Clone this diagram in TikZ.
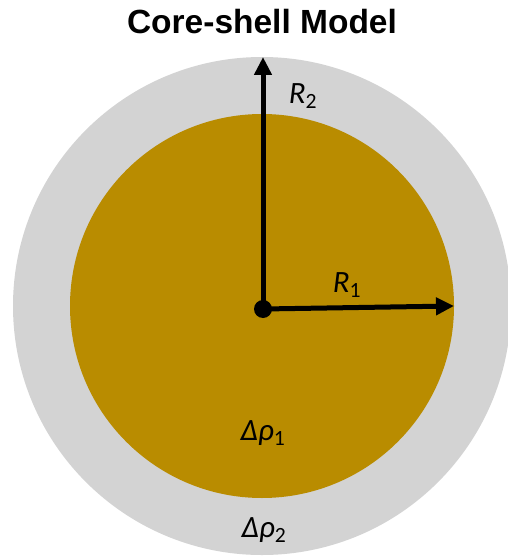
\documentclass[tikz,border=0pt]{standalone}
\usepackage{fontspec}
\setmainfont{Carlito}
\newfontfamily\titlefont{Liberation Sans}
\usetikzlibrary{arrows.meta}
\definecolor{core}{RGB}{185,140,0}
\definecolor{shell}{RGB}{211,211,211}
\begin{document}
\begin{tikzpicture}[x=1pt,y=-1pt,
  disc/.style={circle,inner sep=0pt,draw=none},
  radius arrow/.style={line width=5pt,-{Triangle[length=18pt,width=17pt]}},
  lbl/.style={inner sep=0pt,font=\fontsize{31}{31}\selectfont\itshape}]
\useasboundingbox (0,0) rectangle (508,559);
\begin{scope}
\clip (0,0) rectangle (508,559);
\node[disc,fill=shell,minimum size=498pt] (outer) at (262,306) {};
\end{scope}
\node[disc,fill=core,minimum size=384pt] (inner) at (262,306) {};
\node[font=\titlefont\fontsize{33.5}{33.5}\selectfont\bfseries,inner sep=0pt] (title) at (262,22) {Core-shell Model};
\coordinate (c) at (263,309);
\coordinate (top) at (263,57);
\coordinate (right) at (454,306);
\draw[radius arrow] (c) -- (top);
\draw[radius arrow] (c) -- (right);
\fill (c) circle[radius=9pt];
\node[lbl] (r2) at (303,96) {R\textsubscript{\upshape 2}};
\node[lbl] (r1) at (347,285) {R\textsubscript{\upshape 1}};
\node[lbl] (d1) at (263,433) {Δρ\textsubscript{\upshape 1}};
\node[lbl] (d2) at (264,530) {Δρ\textsubscript{\upshape 2}};
\end{tikzpicture}
\end{document}
